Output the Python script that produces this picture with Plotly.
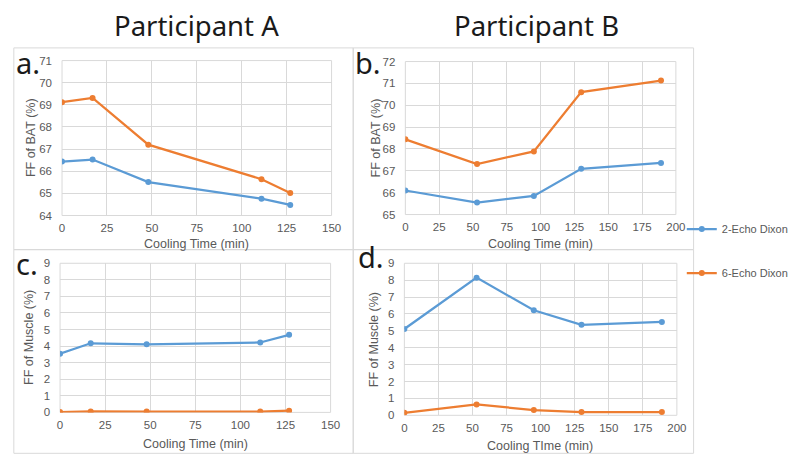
import plotly.graph_objects as go

# ---- data ----
time_a = [0, 17, 48, 111, 127]
time_b = [0, 53, 95, 130, 189]
bat_a_2echo = [66.44, 66.53, 65.51, 64.76, 64.48]
bat_a_6echo = [69.12, 69.31, 67.2, 65.64, 65.02]
bat_b_2echo = [66.1, 65.55, 65.85, 67.09, 67.36]
bat_b_6echo = [68.44, 67.31, 67.89, 70.6, 71.13]
mus_a_2echo = [3.54, 4.17, 4.11, 4.22, 4.68]
mus_a_6echo = [0.02, 0.06, 0.05, 0.05, 0.1]
mus_b_2echo = [5.11, 8.15, 6.22, 5.36, 5.53]
mus_b_6echo = [0.15, 0.64, 0.31, 0.19, 0.19]
series_names = ["2-Echo Dixon", "6-Echo Dixon"]
colors = ["#5B9BD5", "#ED7D31"]

W, H = 800, 471
def px(x):
    return x / W
def py(y):
    return 1 - y / H

fig = go.Figure()

panels = [
    ("", time_a, [bat_a_2echo, bat_a_6echo], [0, 150], 25, [64, 71], (60, 334, 56, 215)),
    ("2", time_b, [bat_b_2echo, bat_b_6echo], [0, 200], 25, [65, 72], (409, 684, 57, 214)),
    ("3", time_a, [mus_a_2echo, mus_a_6echo], [0, 150], 25, [0, 9], (58, 333, 264, 417)),
    ("4", time_b, [mus_b_2echo, mus_b_6echo], [0, 200], 25, [0, 9], (408, 685, 264, 420)),
]

tickfont = dict(family="Liberation Sans, Arial, sans-serif", size=11.5, color="#595959")
for i, (sfx, xs, ys, xr, xd, yr, dom) in enumerate(panels):
    x0, x1, y0, y1 = dom
    for j, yv in enumerate(ys):
        fig.add_trace(go.Scatter(
            x=xs, y=yv, mode="lines+markers", name=series_names[j],
            line=dict(color=colors[j], width=2.25),
            marker=dict(color=colors[j], size=6),
            xaxis="x" + sfx, yaxis="y" + sfx,
            legendgroup=series_names[j], showlegend=(i == 0),
        ))
    fig.layout["xaxis" + sfx] = dict(
        domain=[px(x0), px(x1)], range=xr, dtick=xd, anchor="y" + sfx,
        showgrid=True, gridcolor="#d9d9d9", gridwidth=1, zeroline=False,
        showline=False, tickfont=tickfont, ticklabelstandoff=4, fixedrange=True,
    )
    fig.layout["yaxis" + sfx] = dict(
        domain=[py(y1), py(y0)], range=yr, dtick=1, anchor="x" + sfx,
        showgrid=True, gridcolor="#d9d9d9", gridwidth=1, zeroline=False,
        showline=False, tickfont=tickfont, ticklabelstandoff=9, fixedrange=True,
    )
    fig.add_shape(type="rect", xref="x" + sfx + " domain", yref="y" + sfx + " domain",
                  x0=0, x1=1, y0=0, y1=1, line=dict(color="#d9d9d9", width=1), layer="below")

# panel boxes
for (bx0, bx1, by0, by1) in [(11, 356, 43, 250), (356, 702, 43, 250), (11, 356, 250, 459), (356, 702, 250, 459)]:
    fig.add_shape(type="rect", xref="paper", yref="paper",
                  x0=px(bx0), x1=px(bx1), y0=py(by1), y1=py(by0),
                  line=dict(color="#d9d9d9", width=1), layer="below")

annots = []
titlefont = dict(family="Liberation Sans, Arial, sans-serif", size=12.5, color="#595959")
for (xt, yt, t) in [(197, 244, "Cooling Time (min)"), (546, 244, "Cooling Time (min)"),
                    (196, 449, "Cooling Time (min)"), (546, 452, "Cooling TIme (min)")]:
    annots.append(dict(x=px(xt), y=py(yt), xref="paper", yref="paper", text=t,
                       showarrow=False, font=titlefont, xanchor="center", yanchor="middle",
                       borderpad=0))
for (xt, yt, t) in [(28, 135, "FF of BAT (%)"), (379, 135, "FF of BAT (%)"),
                    (27, 340, "FF of Muscle (%)"), (377, 342, "FF of Muscle (%)")]:
    annots.append(dict(x=px(xt), y=py(yt), xref="paper", yref="paper", text=t, textangle=-90,
                       showarrow=False, font=titlefont, xanchor="center", yanchor="middle"))
letterfont = dict(family="Noto Sans, Open Sans, sans-serif", size=29, color="#1a1a1a")
for (xt, yt, t) in [(39, 58, "a."), (385, 58, "b."), (37, 264, "c."), (388, 257, "d.")]:
    annots.append(dict(x=px(xt), y=py(yt), xref="paper", yref="paper", text=t,
                       showarrow=False, font=letterfont, xanchor="right", yanchor="middle",
                       borderpad=0))
headfont = dict(family="Noto Sans, Open Sans, sans-serif", size=27.5, color="#1a1a1a")
for (xt, yt, t) in [(197, 20, "Participant A"), (542, 20, "Participant B")]:
    annots.append(dict(x=px(xt), y=py(yt), xref="paper", yref="paper", text=t,
                       showarrow=False, font=headfont, xanchor="center", yanchor="middle"))

fig.update_layout(
    width=W, height=H, margin=dict(l=0, r=0, t=0, b=0),
    paper_bgcolor="white", plot_bgcolor="white",
    annotations=annots,
    legend=dict(x=px(690), y=py(214), xanchor="left", yanchor="top",
                font=dict(family="Liberation Sans, Arial, sans-serif", size=11, color="#595959"),
                tracegroupgap=25, itemwidth=30, bgcolor="rgba(0,0,0,0)"),
    showlegend=True,
)

fig.write_html("out.html", config={"displayModeBar": False},
               post_script="document.body.style.margin='0';")
